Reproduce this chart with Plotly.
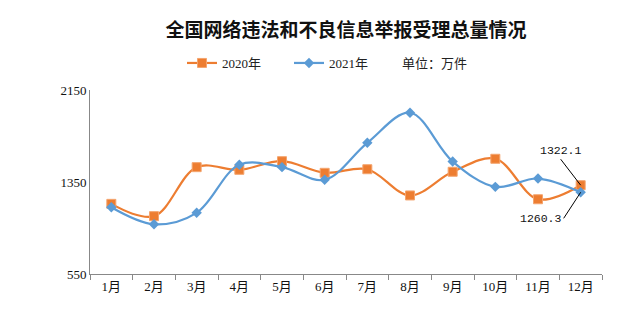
import plotly.graph_objects as go

months = ["1月", "2月", "3月", "4月", "5月", "6月", "7月", "8月", "9月", "10月", "11月", "12月"]
v2020 = [1160, 1053, 1479, 1456, 1531, 1430, 1461, 1233, 1439, 1552, 1200, 1322.1]
v2021 = [1131, 983, 1082, 1500, 1479, 1369, 1691, 1952, 1528, 1308, 1380, 1260.3]
yticks = [550, 1350, 2150]

ORANGE = "#ED7D31"
BLUE = "#5B9BD5"
serif = "Liberation Serif, Noto Sans CJK SC, serif"

fig = go.Figure()
fig.add_trace(go.Scatter(
    x=months, y=v2020, name="2020年", mode="lines+markers",
    line=dict(color=ORANGE, width=2.2, shape="spline", smoothing=1.0),
    marker=dict(symbol="square", size=9, color=ORANGE, line=dict(color="#F4A46E", width=1)),
))
fig.add_trace(go.Scatter(
    x=months, y=v2021, name="2021年", mode="lines+markers",
    line=dict(color=BLUE, width=2.2, shape="spline", smoothing=1.0),
    marker=dict(symbol="diamond", size=8, color=BLUE),
))

fig.add_annotation(x=months[-1], y=v2020[-1], text=f"{v2020[-1]:.1f}", ax=-20, ay=-26,
                   xanchor="center", yanchor="bottom",
                   showarrow=True, arrowhead=0, arrowwidth=1, arrowcolor="#000",
                   font=dict(family="Liberation Mono, monospace", size=11.5, color="#111"))
fig.add_annotation(x=months[-1], y=v2021[-1], text=f"{v2021[-1]:.1f}", ax=-17, ay=26,
                   xanchor="right", yanchor="middle",
                   showarrow=True, arrowhead=0, arrowwidth=1, arrowcolor="#000",
                   font=dict(family="Liberation Mono, monospace", size=11.5, color="#111"))

fig.add_annotation(xref="paper", yref="paper", x=(400 - 90) / 512, y=(274 - 63) / 184,
                   text="单位：万件", showarrow=False, xanchor="left", yanchor="middle",
                   font=dict(family="Noto Sans CJK SC", size=13, color="#222"))

fig.update_layout(
    width=627, height=335,
    margin=dict(l=90, r=25, t=90, b=61, autoexpand=False),
    paper_bgcolor="white", plot_bgcolor="white",
    title=dict(text="<b>全国网络违法和不良信息举报受理总量情况</b>", x=0.5, xref="paper",
               y=1 - 30 / 335, yref="container", yanchor="middle",
               font=dict(family="Noto Sans CJK SC", size=19, color="#111")),
    legend=dict(orientation="h", xref="container", yref="container",
                x=182 / 627, y=1 - 63 / 335, xanchor="left", yanchor="middle",
                entrywidth=62, entrywidthmode="pixels",
                font=dict(family="Liberation Serif, Noto Sans CJK SC", size=13, color="#222"),
                bgcolor="rgba(0,0,0,0)"),
    showlegend=True,
    font=dict(family=serif, color="#222"),
)
fig.update_xaxes(
    type="category", showline=True, linecolor="#888", linewidth=1,
    ticks="outside", tickson="boundaries", ticklen=5, tickcolor="#888",
    showgrid=False, tickfont=dict(family=serif, size=13, color="#111"),
    range=[-0.5, 11.5],
)
fig.update_yaxes(
    range=[550, 2150], tickvals=yticks, showline=True, linecolor="#888", linewidth=1,
    ticks="", showgrid=False, zeroline=False,
    tickfont=dict(family=serif, size=13, color="#111"),
)

fig.write_html("out.html")
